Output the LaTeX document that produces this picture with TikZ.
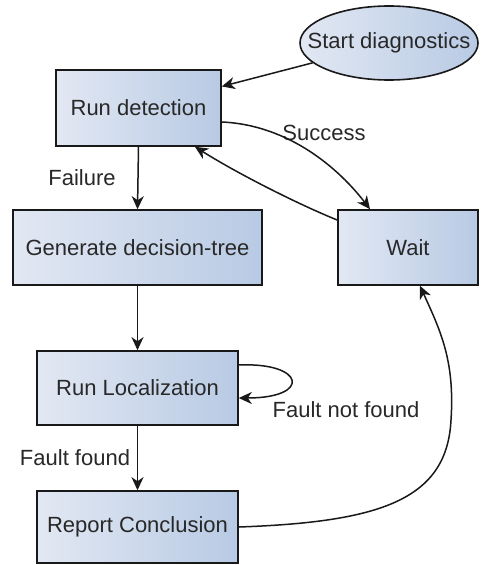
\documentclass[tikz,border=0pt]{standalone}
\usepackage{fontspec}
\setmainfont{Liberation Sans}
\usetikzlibrary{shapes.geometric,arrows.meta}
\definecolor{boxl}{RGB}{226,232,243}
\definecolor{boxr}{RGB}{184,202,228}
\definecolor{edgec}{RGB}{25,25,25}
\definecolor{txt}{RGB}{40,40,40}
\tikzset{
  stepbox/.style={draw=edgec, line width=1.6pt, left color=boxl, right color=boxr,
    shading angle=90, text=txt, font=\fontsize{22}{26}\selectfont, inner sep=0pt, rectangle},
  startnode/.style={stepbox, ellipse},
  conn/.style={draw=edgec, line width=1.5pt, -{Stealth[length=13pt,width=12pt,inset=4pt]}},
  lbl/.style={text=txt, font=\fontsize{22}{26}\selectfont, inner sep=0pt}
}
\begin{document}
\begin{tikzpicture}[x=1pt,y=1pt]
\useasboundingbox (0,0) rectangle (480,-565);
\fill[white] (0,0) rectangle (480,-565);
\node[startnode, minimum width=178pt, minimum height=74pt] (start) at (389,-43) {\makebox[0pt]{Start diagnostics}};
\node[stepbox, minimum width=165pt, minimum height=76pt] (det) at (138.5,-108) {Run detection};
\node[stepbox, minimum width=249pt, minimum height=75pt] (gen) at (137.5,-247.5) {Generate decision-tree};
\node[stepbox, minimum width=140pt, minimum height=75pt] (wait) at (408,-247.5) {Wait};
\node[stepbox, minimum width=201pt, minimum height=74pt] (loc) at (137.5,-388) {Run Localization};
\node[stepbox, minimum width=201pt, minimum height=72pt] (rep) at (137.5,-527) {Report Conclusion};

\draw[conn] (start) -- (det);
\draw[conn] (det.south) -- (gen.north);
\draw[conn] (gen.south) -- (loc.north);
\draw[conn] (loc.south) -- (rep.north);

\node[lbl] (lfail) at (82,-178) {Failure};
\node[lbl] (lff) at (75,-458) {Fault found};
\node[lbl] (lnf) at (346,-410) {Fault not found};
\node[lbl] (lsucc) at (324,-133) {Success};

% self loop
\draw[conn] ([yshift=23pt]loc.east) .. controls (305,-362) and (312,-398) .. ([yshift=-10pt]loc.east);

% success
\draw[conn] ([yshift=-14pt]det.east) .. controls (290,-125) and (340,-170) .. ([xshift=-38pt]wait.north);

% wait back to detection
\draw[conn] ([yshift=27.5pt]wait.west) .. controls (300,-205) and (240,-175) .. ([xshift=56.5pt]det.south);

% report to wait
\coordinate (rc) at (451,-420);
\draw[conn] (rep.east) .. controls (380,-522) and (447,-500) .. (rc) .. controls (455,-360) and (440,-330) .. ([xshift=12pt]wait.south);
\end{tikzpicture}
\end{document}
